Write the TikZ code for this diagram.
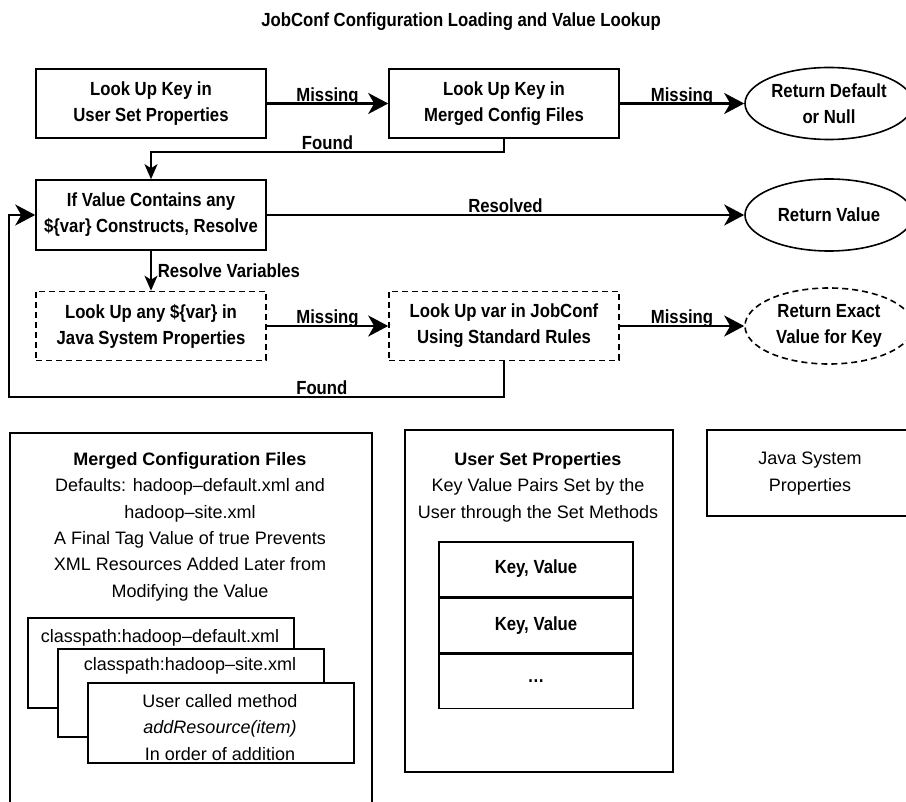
\documentclass[tikz,border=0pt]{standalone}
\usepackage{fontspec}
\setmainfont{Liberation Sans}
\newfontfamily\condfont{Liberation Sans}[FakeStretch=0.88]
\usetikzlibrary{shapes.geometric,arrows.meta,positioning}

\begin{document}
\begin{tikzpicture}[x=1pt,y=-1pt,
		every node/.style={inner sep=0pt, align=center, font=\fontsize{19}{26}\condfont\bfseries},
		stepbox/.style={draw, line width=1.6pt, minimum width=230pt, minimum height=69pt},
		varbox/.style={stepbox, dash pattern=on 6pt off 4pt},
		result/.style={draw, ellipse, line width=1.6pt, minimum width=168pt, minimum height=72pt},
		flow/.style={line width=2.6pt, -{Stealth[length=20pt,width=21pt,inset=6pt]}},
		backflow/.style={line width=2pt, -{Stealth[length=20pt,width=21pt,inset=6pt]}},
		found/.style={line width=2pt, -{Stealth[length=15pt,width=13pt,inset=4pt]}},
		drop/.style={line width=1.6pt, -{Stealth[length=15pt,width=13pt,inset=4pt]}},
		lbl/.style={anchor=base, yshift=2pt},
		panel/.style={draw, line width=1.6pt, anchor=north west},
		sheet/.style={panel, fill=white, minimum width=266pt},
		body/.style={anchor=north, font=\fontsize{18}{26.4}\selectfont},
		cell/.style={draw, line width=1.6pt, minimum width=194pt, minimum height=54.5pt}]
	\useasboundingbox[fill=white] (0,0) rectangle (906,802);
	\node[anchor=base] (title) at (461,27) {JobConf Configuration Loading and Value Lookup};

	\node[stepbox] (userlook) at (151,103.5) {Look Up Key in\\User Set Properties};
	\node[stepbox] (filelook) at (504,103.5) {Look Up Key in\\Merged Config Files};
	\node[result] (default) at (829,103.5) {Return Default\\or Null};
	\node[stepbox, minimum height=70pt] (resolve) at (151,215) {If Value Contains any\\\$\{var\} Constructs, Resolve};
	\node[result] (value) at (829,215) {Return Value};
	\node[varbox] (sysprop) at (151,326) {Look Up any \$\{var\} in\\Java System Properties};
	\node[varbox] (conflook) at (504,326) {Look Up var in JobConf\\Using Standard Rules};
	\node[result, dash pattern=on 6pt off 4pt, minimum height=76pt] (exact) at (829,326) {Return Exact\\Value for Key};
	\coordinate (upfound) at (151,152);
	\coordinate (lowfound) at (9,397);

	\draw[flow] (userlook) -- node[lbl] {Missing} (filelook);
	\draw[flow] (filelook) -- node[lbl] {Missing} (default);
	\draw[found] (filelook) |- node[lbl, pos=0.75] {Found} (upfound) -- (resolve);
	\draw[flow] (resolve) -- node[lbl] {Resolved} (value);
	\draw[drop] (resolve) -- node[right=6pt] {Resolve Variables} (sysprop);
	\draw[flow] (sysprop) -- node[lbl] {Missing} (conflook);
	\draw[flow] (conflook) -- node[lbl] {Missing} (exact);
	\draw[backflow] (conflook) |- node[lbl, pos=0.684] {Found} (lowfound) |- (resolve);

	\node[panel, minimum width=362pt, minimum height=400pt] (merged) at (9,432) {};
	\node[body] (mergedtext) at (190,452) {\textbf{Merged Configuration Files}\\Defaults: hadoop\textendash default.xml and\\hadoop\textendash site.xml\\A Final Tag Value of true Prevents\\XML Resources Added Later from\\Modifying the Value};
	\node[sheet, minimum height=90pt] (cpdefault) at (27,617) {};
	\node[body] (cpdefaulttext) at (160,629) {classpath:hadoop\textendash default.xml};
	\node[sheet, minimum height=88pt] (cpsite) at (57,648) {};
	\node[body] (cpsitetext) at (190,657) {classpath:hadoop\textendash site.xml};
	\node[sheet, minimum height=80pt] (added) at (87,682) {};
	\node[body] (addedtext) at (220,694) {User called method\\\textit{addResource(item)}\\In order of addition};

	\node[panel, minimum width=268pt, minimum height=342pt] (userset) at (404,429) {};
	\node[body] (usersettext) at (538,452) {\textbf{User Set Properties}\\Key Value Pairs Set by the\\User through the Set Methods};
	\node[cell, anchor=north] (kv1) at (536,541) {Key, Value};
	\node[cell, below=0pt of kv1] (kv2) {Key, Value};
	\node[cell, below=0pt of kv2] (kvmore) {\dots};

	\node[panel, minimum width=212pt, minimum height=86pt] (javasys) at (706,429) {};
	\node[body] (javasystext) at (810,452) {Java System\\Properties};
\end{tikzpicture}
\end{document}
